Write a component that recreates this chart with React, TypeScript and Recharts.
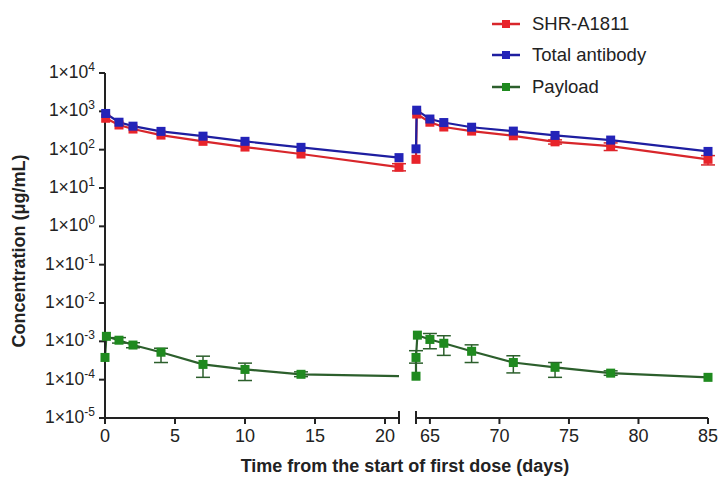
import { LineChart, Line, XAxis, YAxis, ErrorBar } from 'recharts';

// Log scale ticks shared by both panels
const LOG_TICKS = [1e-5, 1e-4, 1e-3, 1e-2, 1e-1, 1, 10, 100, 1000, 10000];

// First dose (days 0-21)
const leftDaysAdc = [0.05, 1, 2, 4, 7, 10, 14, 21];
const leftShr = [660, 440, 345, 240, 165, 117, 77, 35];
const leftShrLow = [null, null, null, null, null, null, null, 28];
const leftShrHigh = [null, null, null, null, null, null, null, 43];
const leftTab = [880, 520, 410, 300, 225, 165, 115, 62];

const leftDaysPayload = [0, 0.1, 1, 2, 4, 7, 10, 14, 21];
const leftPayload = [3.8e-4, 1.35e-3, 1.07e-3, 8.0e-4, 5.2e-4, 2.5e-4, 1.85e-4, 1.38e-4, 1.23e-4];
const leftPayloadLow = [null, null, 9.0e-4, 6.8e-4, 2.8e-4, 1.15e-4, 9.5e-5, 1.2e-4, null];
const leftPayloadHigh = [null, null, 1.25e-3, 9.2e-4, 6.6e-4, 4.1e-4, 2.7e-4, 1.6e-4, null];

// Second dose (days 64-85)
const rightDaysAdc = [64, 64.05, 65, 66, 68, 71, 74, 78, 85];
const rightShr = [56, 850, 520, 390, 305, 230, 160, 124, 56];
const rightShrLow = [null, null, null, null, null, null, 140, 95, 40];
const rightShrHigh = [null, null, null, null, null, null, 180, 150, 70];
const rightTab = [105, 1070, 630, 510, 385, 305, 235, 178, 90];

const rightDaysPayload = [64, 64, 64.1, 65, 66, 68, 71, 74, 78, 85];
const rightPayload = [1.23e-4, 3.8e-4, 1.45e-3, 1.12e-3, 8.9e-4, 5.5e-4, 2.8e-4, 2.1e-4, 1.48e-4, 1.15e-4];
const rightPayloadLow = [null, 2.7e-4, null, 6.4e-4, 4.3e-4, 2.8e-4, 1.5e-4, 1.15e-4, 1.3e-4, null];
const rightPayloadHigh = [null, 5.7e-4, null, 1.6e-3, 1.4e-3, 8.1e-4, 4.2e-4, 2.8e-4, 1.7e-4, null];

const LEFT_TICKS = [0, 5, 10, 15, 20, 21];
const RIGHT_TICKS = [64, 65, 70, 75, 80, 85];
const CAP_TICKS = [21, 64];
const NO_MARKER_DAY = 21; // payload line ends at day 21 without a marker

const SERIES = [
  { name: 'SHR-A1811', line: '#d8262b', marker: '#e8232a' },
  { name: 'Total antibody', line: '#1e1ea0', marker: '#2323b8' },
  { name: 'Payload', line: '#2c5f2c', marker: '#1f8a1f' },
];

const FONT = '"Liberation Sans", Arial, sans-serif';
const INK = '#222';

type Row = { day: number; value: number; err: [number, number] | null };

const buildRows = (
  days: number[],
  values: number[],
  low?: (number | null)[],
  high?: (number | null)[]
): Row[] =>
  days.map((d, i) => {
    const lo = low?.[i];
    const hi = high?.[i];
    const err: [number, number] | null =
      lo != null && hi != null ? [values[i] - lo, hi - values[i]] : null;
    return { day: d, value: values[i], err };
  });

const squareDot = (color: string, skipDay?: number) => (props: any) => {
  const { cx, cy, index, payload } = props;
  if (cx == null || cy == null || (skipDay != null && payload.day === skipDay)) {
    return <g key={`n-${index}`} />;
  }
  return <rect key={`d-${index}`} x={cx - 4.5} y={cy - 4.5} width={9} height={9} fill={color} />;
};

const YTick = (props: any) => {
  const { x, y, payload } = props;
  const exp = Math.round(Math.log10(payload.value));
  return (
    <text x={x} y={y} dy={5} textAnchor="end" fontSize={17.5} fill={INK} fontFamily={FONT}>
      1×10
      <tspan dy={-7} fontSize={12}>
        {exp}
      </tspan>
    </text>
  );
};

const XTick = (props: any) => {
  const { x, y, payload } = props;
  if (CAP_TICKS.includes(payload.value)) {
    return <line x1={x} x2={x} y1={y - 17} y2={y - 7} stroke={INK} strokeWidth={2} />;
  }
  return (
    <text x={x} y={y} dy={14} textAnchor="middle" fontSize={18} fill={INK} fontFamily={FONT}>
      {payload.value}
    </text>
  );
};

function Panel({
  width,
  margin,
  domain,
  ticks,
  showY,
  shr,
  tab,
  payload,
  skipDay,
}: {
  width: number;
  margin: { top: number; right: number; bottom: number; left: number };
  domain: [number, number];
  ticks: number[];
  showY: boolean;
  shr: Row[];
  tab: Row[];
  payload: Row[];
  skipDay?: number;
}) {
  return (
    <LineChart width={width} height={483} margin={margin}>
      <XAxis
        type="number"
        dataKey="day"
        domain={domain}
        ticks={ticks}
        interval={0}
        height={30}
        tickSize={6}
        tickMargin={4}
        tick={XTick}
        axisLine={{ stroke: INK, strokeWidth: 2 }}
        tickLine={{ stroke: INK, strokeWidth: 2 }}
      />
      <YAxis
        scale="log"
        domain={[1e-5, 1e4]}
        ticks={LOG_TICKS}
        interval={0}
        hide={!showY}
        width={105}
        tickSize={6}
        tickMargin={4}
        tick={YTick}
        axisLine={{ stroke: INK, strokeWidth: 2 }}
        tickLine={{ stroke: INK, strokeWidth: 2 }}
      />
      {[shr, tab, payload].map((rows, i) => (
        <Line
          key={SERIES[i].name}
          data={rows}
          dataKey="value"
          type="linear"
          stroke={SERIES[i].line}
          strokeWidth={2.2}
          dot={squareDot(SERIES[i].marker, i === 2 ? skipDay : undefined)}
          activeDot={false}
          isAnimationActive={false}
        >
          <ErrorBar dataKey="err" direction="y" width={7} stroke={SERIES[i].line} strokeWidth={1.5} />
        </Line>
      ))}
    </LineChart>
  );
}

function LegendBox() {
  return (
    <div style={{ position: 'absolute', left: 490, top: 8 }}>
      {SERIES.map((s) => (
        <div key={s.name} style={{ display: 'flex', alignItems: 'center', height: 31.5 }}>
          <svg width={38} height={14}>
            <line x1={2} x2={30} y1={7} y2={7} stroke={s.line} strokeWidth={2.5} />
            <rect x={12} y={3} width={8} height={8} fill={s.marker} />
          </svg>
          <span style={{ fontFamily: FONT, fontSize: 18.5, color: INK, marginLeft: 4 }}>{s.name}</span>
        </div>
      ))}
    </div>
  );
}

export default function App() {
  return (
    <div style={{ position: 'absolute', left: 0, top: 0, width: 720, height: 483, background: '#fff' }}>
      <div style={{ position: 'absolute', left: 0, top: 0 }}>
        <Panel
          width={410}
          margin={{ top: 73, right: 11, bottom: 35, left: 0 }}
          domain={[0, 21]}
          ticks={LEFT_TICKS}
          showY
          shr={buildRows(leftDaysAdc, leftShr, leftShrLow, leftShrHigh)}
          tab={buildRows(leftDaysAdc, leftTab)}
          payload={buildRows(leftDaysPayload, leftPayload, leftPayloadLow, leftPayloadHigh)}
          skipDay={NO_MARKER_DAY}
        />
      </div>
      <div style={{ position: 'absolute', left: 400, top: 0 }}>
        <Panel
          width={320}
          margin={{ top: 73, right: 12, bottom: 35, left: 16 }}
          domain={[64, 85]}
          ticks={RIGHT_TICKS}
          showY={false}
          shr={buildRows(rightDaysAdc, rightShr, rightShrLow, rightShrHigh)}
          tab={buildRows(rightDaysAdc, rightTab)}
          payload={buildRows(rightDaysPayload, rightPayload, rightPayloadLow, rightPayloadHigh)}
        />
      </div>
      <LegendBox />
      <div
        style={{
          position: 'absolute',
          left: 19,
          top: 251,
          transform: 'translate(-50%, -50%) rotate(-90deg)',
          whiteSpace: 'nowrap',
          fontFamily: FONT,
          fontWeight: 'bold',
          fontSize: 18,
          color: INK,
        }}
      >
        Concentration (μg/mL)
      </div>
      <div
        style={{
          position: 'absolute',
          left: 0,
          width: 810,
          top: 456,
          textAlign: 'center',
          fontFamily: FONT,
          fontWeight: 'bold',
          fontSize: 18,
          color: INK,
        }}
      >
        Time from the start of first dose (days)
      </div>
    </div>
  );
}
